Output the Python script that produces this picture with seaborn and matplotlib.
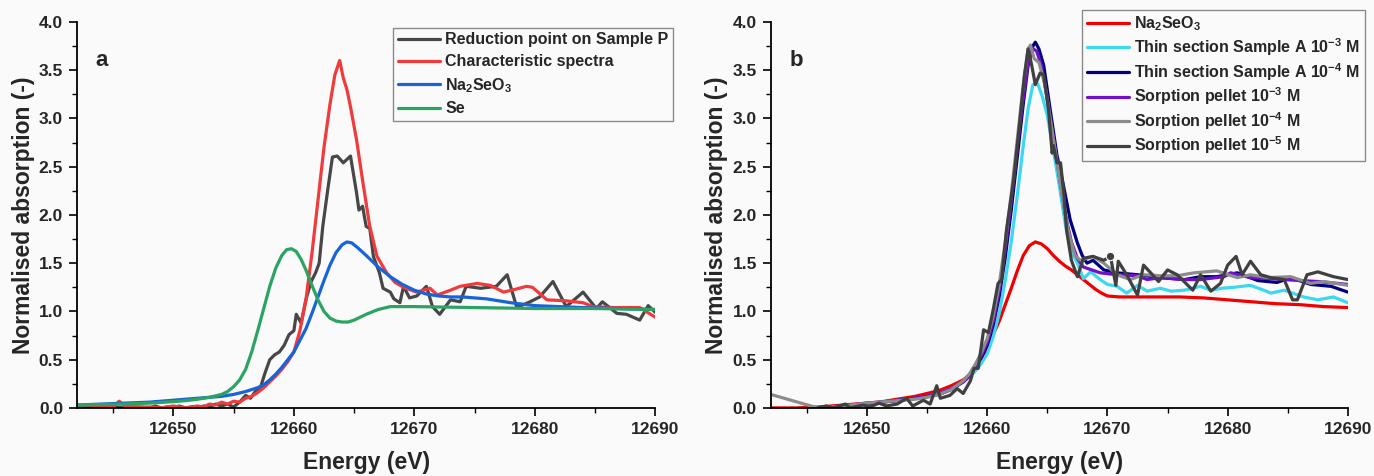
import matplotlib
matplotlib.use("Agg")
import matplotlib.pyplot as plt
from matplotlib.ticker import MultipleLocator
import seaborn as sns

# ---- panel a: reduction point vs references ----
red_pt_x = [12642.0, 12643.0, 12644.0, 12645.0, 12646.0, 12647.0, 12648.0, 12648.5, 12649.0, 12649.5,
            12650.0, 12650.5, 12651.0, 12651.5, 12652.0, 12652.5, 12653.0, 12653.5, 12654.0, 12654.5,
            12655.0, 12655.5, 12656.0, 12656.4, 12656.8, 12657.2, 12657.6, 12658.0, 12658.4, 12658.8,
            12659.2, 12659.6, 12660.0, 12660.2, 12660.6, 12661.0, 12661.4, 12661.8, 12662.1, 12662.4,
            12662.8, 12663.2, 12663.6, 12664.1, 12664.7, 12665.2, 12665.4, 12665.7, 12666.0, 12666.3,
            12666.6, 12667.1, 12667.4, 12668.0, 12668.3, 12668.8, 12669.1, 12669.6, 12670.2, 12671.0,
            12671.5, 12672.1, 12673.0, 12673.8, 12674.3, 12675.5, 12676.8, 12677.7, 12678.5, 12679.6,
            12680.4, 12681.5, 12682.6, 12684.0, 12685.1, 12685.6, 12686.8, 12687.6, 12688.7, 12689.4,
            12690.0]
red_pt_y = [0.00, 0.01, 0.00, 0.01, 0.00, 0.01, 0.00, 0.02, 0.00, 0.01,
            0.00, 0.02, 0.00, 0.01, 0.00, 0.02, 0.01, 0.04, 0.02, 0.04,
            0.01, 0.06, 0.13, 0.10, 0.17, 0.20, 0.36, 0.50, 0.55, 0.58,
            0.65, 0.76, 0.80, 0.97, 0.88, 1.12, 1.30, 1.40, 1.50, 1.88,
            2.25, 2.60, 2.61, 2.54, 2.61, 2.23, 2.05, 2.09, 1.88, 1.86,
            1.57, 1.40, 1.24, 1.20, 1.13, 1.09, 1.26, 1.14, 1.16, 1.26,
            1.05, 0.97, 1.12, 1.10, 1.26, 1.24, 1.26, 1.38, 1.04, 1.10,
            1.15, 1.31, 1.05, 1.20, 1.03, 1.10, 0.98, 0.97, 0.91, 1.06,
            0.99]

char_x = [12642.0, 12643.0, 12644.0, 12645.0, 12645.5, 12646.0, 12647.0, 12648.0, 12649.0, 12650.0,
          12651.0, 12652.0, 12652.5, 12653.0, 12653.5, 12654.0, 12654.5, 12655.0, 12655.5, 12656.0,
          12656.5, 12657.0, 12657.5, 12658.0, 12658.5, 12659.0, 12659.5, 12660.0, 12660.5, 12661.0,
          12661.5, 12662.0, 12662.5, 12663.0, 12663.4, 12663.8, 12664.1, 12664.4, 12664.7, 12665.2,
          12665.7, 12666.3, 12666.9, 12667.7, 12668.4, 12669.1, 12670.2, 12671.3, 12671.9, 12673.0,
          12673.8, 12675.2, 12676.3, 12677.4, 12678.4, 12679.3, 12679.8, 12681.0, 12682.6, 12684.0,
          12684.8, 12686.5, 12688.7, 12690.0]
char_y = [0.01, 0.00, 0.02, 0.01, 0.07, 0.02, 0.01, 0.01, 0.00, 0.02,
          0.00, 0.02, 0.01, 0.04, 0.03, 0.06, 0.04, 0.07, 0.06, 0.10,
          0.12, 0.16, 0.21, 0.27, 0.33, 0.40, 0.48, 0.58, 0.80, 1.12,
          1.60, 2.15, 2.70, 3.15, 3.45, 3.60, 3.42, 3.30, 3.12, 2.78,
          2.36, 1.88, 1.57, 1.40, 1.30, 1.25, 1.20, 1.24, 1.17, 1.22,
          1.26, 1.29, 1.27, 1.20, 1.23, 1.26, 1.25, 1.12, 1.11, 1.09,
          1.05, 1.04, 1.04, 0.94]

na_a_x = [12642, 12644, 12646, 12648, 12650, 12651, 12652, 12653, 12654, 12655,
          12656, 12657, 12657.5, 12658, 12658.5, 12659, 12659.5, 12660, 12660.5, 12661,
          12661.5, 12662, 12662.5, 12663, 12663.5, 12664, 12664.4, 12664.8, 12665.3, 12666,
          12667, 12668, 12669, 12670, 12671, 12672, 12673, 12674, 12675, 12676,
          12677, 12678, 12680, 12682, 12684, 12687, 12690]
na_a_y = [0.03, 0.04, 0.05, 0.06, 0.08, 0.09, 0.10, 0.11, 0.12, 0.14,
          0.17, 0.21, 0.24, 0.29, 0.35, 0.42, 0.50, 0.58, 0.70, 0.82,
          0.98, 1.15, 1.32, 1.48, 1.61, 1.69, 1.72, 1.71, 1.66, 1.58,
          1.46, 1.36, 1.28, 1.22, 1.18, 1.16, 1.15, 1.15, 1.14, 1.13,
          1.11, 1.09, 1.06, 1.05, 1.04, 1.03, 1.02]

se_x = [12642, 12644, 12646, 12648, 12650, 12651, 12652, 12653, 12654, 12654.5,
        12655, 12655.5, 12656, 12656.5, 12657, 12657.5, 12658, 12658.5, 12659, 12659.4,
        12659.8, 12660.2, 12660.6, 12661, 12661.5, 12662, 12662.5, 12663, 12663.5, 12664,
        12664.5, 12665, 12665.5, 12666, 12667, 12668, 12669, 12670, 12675, 12680,
        12685, 12690]
se_y = [0.03, 0.035, 0.04, 0.05, 0.065, 0.075, 0.09, 0.11, 0.14, 0.17,
        0.22, 0.29, 0.40, 0.58, 0.80, 1.03, 1.26, 1.45, 1.58, 1.64,
        1.65, 1.62, 1.54, 1.43, 1.27, 1.12, 1.00, 0.93, 0.90, 0.89,
        0.89, 0.91, 0.94, 0.97, 1.02, 1.05, 1.05, 1.05, 1.04, 1.03,
        1.03, 1.02]

# ---- panel b: Na2SeO3, thin sections and sorption pellets ----
na_b_x = [12642, 12644, 12646, 12648, 12650, 12651, 12652, 12653, 12654, 12655,
          12656, 12657, 12658, 12658.5, 12659, 12659.5, 12660, 12660.5, 12661, 12661.5,
          12662, 12662.5, 12663, 12663.5, 12664, 12664.5, 12665, 12665.5, 12666, 12666.5,
          12667, 12667.5, 12668, 12668.5, 12669, 12669.5, 12670, 12671, 12672, 12674,
          12676, 12678, 12680, 12682, 12684, 12686, 12688, 12690]
na_b_y = [0.00, 0.00, 0.01, 0.03, 0.05, 0.06, 0.08, 0.10, 0.12, 0.15,
          0.18, 0.23, 0.29, 0.34, 0.41, 0.50, 0.62, 0.76, 0.90, 1.07,
          1.24, 1.42, 1.58, 1.68, 1.72, 1.70, 1.65, 1.58, 1.52, 1.47,
          1.43, 1.38, 1.33, 1.28, 1.23, 1.19, 1.16, 1.15, 1.15, 1.15,
          1.15, 1.14, 1.12, 1.10, 1.08, 1.07, 1.05, 1.04]

thin3_x = [12646, 12648, 12650, 12652, 12654, 12655, 12656, 12657, 12658, 12658.5,
           12659, 12659.5, 12660, 12660.5, 12661, 12661.5, 12662, 12662.5, 12663, 12663.4,
           12663.8, 12664.2, 12664.6, 12665, 12665.5, 12666, 12666.5, 12667, 12667.5, 12668,
           12668.6, 12669.4, 12670, 12670.8, 12671.6, 12672.5, 12673.3, 12674.4, 12675.3, 12676.4,
           12677.75, 12678.6, 12679.5, 12680.5, 12681.9, 12683, 12683.6, 12684.7, 12686.3, 12687.5,
           12688.8, 12690]
thin3_y = [0.00, 0.02, 0.04, 0.07, 0.10, 0.12, 0.15, 0.20, 0.27, 0.32,
           0.38, 0.46, 0.56, 0.74, 0.98, 1.32, 1.72, 2.20, 2.72, 3.10,
           3.35, 3.36, 3.22, 3.03, 2.67, 2.30, 1.90, 1.62, 1.50, 1.34,
           1.41, 1.33, 1.28, 1.26, 1.19, 1.27, 1.21, 1.24, 1.21, 1.22,
           1.26, 1.22, 1.24, 1.25, 1.27, 1.22, 1.19, 1.22, 1.15, 1.12,
           1.15, 1.09]

thin4_x = [12646, 12648, 12650, 12652, 12654, 12655, 12656, 12657, 12658, 12658.5,
           12659, 12659.5, 12660, 12660.5, 12661, 12661.5, 12662, 12662.5, 12663, 12663.4,
           12663.8, 12664.0, 12664.3, 12664.7, 12665.25, 12665.8, 12666.3, 12666.9, 12667.5, 12667.9,
           12668.3, 12668.8, 12669.7, 12670.8, 12672.5, 12674.4, 12676.4, 12677.75, 12679.1, 12680.8,
           12682.5, 12684.1, 12685.25, 12686.9, 12688.6, 12690]
thin4_y = [0.00, 0.02, 0.04, 0.07, 0.10, 0.12, 0.14, 0.19, 0.27, 0.33,
           0.42, 0.52, 0.65, 0.86, 1.16, 1.56, 2.05, 2.60, 3.15, 3.55,
           3.75, 3.79, 3.72, 3.55, 3.08, 2.62, 2.33, 1.95, 1.71, 1.58,
           1.50, 1.53, 1.43, 1.40, 1.38, 1.35, 1.33, 1.36, 1.36, 1.40,
           1.32, 1.30, 1.35, 1.28, 1.26, 1.20]

pel3_x = [12646, 12648, 12650, 12652, 12654, 12655, 12656, 12657, 12658, 12658.5,
          12659, 12659.5, 12660, 12660.5, 12661, 12661.5, 12662, 12662.5, 12663, 12663.4,
          12663.8, 12664.1, 12664.5, 12665, 12665.5, 12666, 12666.5, 12667, 12667.5, 12668,
          12668.7, 12669.4, 12670.8, 12672.5, 12673.3, 12674.4, 12676.4, 12677.75, 12679.7, 12680.25,
          12681.9, 12683.5, 12684.7, 12686, 12687.5, 12690]
pel3_y = [0.00, 0.02, 0.05, 0.07, 0.10, 0.12, 0.15, 0.20, 0.27, 0.33,
          0.42, 0.54, 0.68, 0.90, 1.22, 1.64, 2.15, 2.70, 3.22, 3.58,
          3.72, 3.70, 3.55, 3.20, 2.80, 2.40, 2.00, 1.72, 1.55, 1.46,
          1.43, 1.40, 1.38, 1.37, 1.33, 1.35, 1.33, 1.33, 1.36, 1.40,
          1.35, 1.34, 1.33, 1.32, 1.31, 1.28]

pel4_x = [12642, 12645.9, 12647, 12648, 12650, 12652, 12654, 12655, 12656, 12657,
          12658, 12658.5, 12659, 12659.5, 12660, 12660.5, 12661, 12661.5, 12662, 12662.5,
          12663, 12663.4, 12663.6, 12663.9, 12664.3, 12664.8, 12665.3, 12665.8, 12666.3, 12666.8,
          12667.3, 12667.75, 12668.8, 12669.7, 12670.8, 12671.9, 12673, 12674.4, 12675.8, 12677.2,
          12679.1, 12680.8, 12681.9, 12683.3, 12685.25, 12686.9, 12688, 12690]
pel4_y = [0.14, 0.00, 0.01, 0.02, 0.05, 0.07, 0.09, 0.11, 0.14, 0.19,
          0.28, 0.35, 0.45, 0.57, 0.72, 0.95, 1.28, 1.72, 2.22, 2.78,
          3.35, 3.72, 3.76, 3.62, 3.58, 3.35, 2.95, 2.55, 2.15, 1.80,
          1.58, 1.53, 1.57, 1.50, 1.38, 1.33, 1.38, 1.37, 1.37, 1.40,
          1.42, 1.35, 1.38, 1.35, 1.36, 1.29, 1.31, 1.27]

pel5_x = [12645.9, 12646.6, 12647.2, 12648.2, 12648.6, 12649.7, 12650.25, 12651, 12651.6, 12652.5,
          12653.3, 12653.8, 12654.7, 12655.25, 12655.8, 12656.1, 12656.9, 12657.5, 12658, 12658.6,
          12658.9, 12659.25, 12659.7, 12660.1, 12660.5, 12660.9, 12661.2, 12661.6, 12662.2, 12662.7,
          12663.1, 12663.4, 12663.7, 12664.0, 12664.4, 12664.7, 12665.1, 12665.4, 12665.5, 12665.8,
          12666.1, 12666.4, 12666.6, 12667.0, 12667.5, 12668.0, 12668.8, 12669.7, 12670.25, 12670.7,
          12670.9, 12671.6, 12672.5, 12673.0, 12673.6, 12674.25, 12675.0, 12675.8, 12677.1, 12677.75,
          12678.6, 12679.4, 12680.0, 12680.7, 12681.2, 12681.9, 12682.75, 12683.6, 12684.7, 12685.4,
          12685.8, 12686.6, 12687.5, 12688.8, 12690.0]
pel5_y = [0.00, 0.02, 0.00, 0.04, 0.00, 0.03, 0.01, 0.05, 0.02, 0.04,
          0.10, 0.02, 0.08, 0.04, 0.23, 0.10, 0.13, 0.20, 0.15, 0.28,
          0.41, 0.41, 0.81, 0.78, 1.02, 1.29, 1.33, 1.84, 2.36, 2.95,
          3.45, 3.72, 3.55, 3.35, 3.47, 3.45, 3.09, 2.64, 2.72, 2.54,
          2.54, 2.19, 1.84, 1.53, 1.36, 1.55, 1.57, 1.53, 1.57, 1.27,
          1.52, 1.38, 1.17, 1.48, 1.40, 1.31, 1.43, 1.38, 1.22, 1.38,
          1.21, 1.29, 1.48, 1.57, 1.38, 1.52, 1.38, 1.35, 1.33, 1.12,
          1.12, 1.38, 1.41, 1.36, 1.33]

labels_a = ["Reduction point on Sample P", "Characteristic spectra",
            r"Na$_\mathregular{2}$SeO$_\mathregular{3}$", "Se"]
labels_b = [r"Na$_\mathregular{2}$SeO$_\mathregular{3}$",
            r"Thin section Sample A 10$^{\mathregular{-3}}$ M",
            r"Thin section Sample A 10$^{\mathregular{-4}}$ M",
            r"Sorption pellet 10$^{\mathregular{-3}}$ M",
            r"Sorption pellet 10$^{\mathregular{-4}}$ M",
            r"Sorption pellet 10$^{\mathregular{-5}}$ M"]

sns.set_theme(style="ticks")
bg = "#fafafa"
plt.rcParams["font.family"] = ["Liberation Sans", "DejaVu Sans"]
plt.rcParams["font.weight"] = "bold"
plt.rcParams["mathtext.fontset"] = "custom"
plt.rcParams["mathtext.rm"] = "Liberation Sans:bold"
plt.rcParams["mathtext.bf"] = "Liberation Sans:bold"
plt.rcParams["mathtext.it"] = "Liberation Sans:bold"
plt.rcParams["mathtext.sf"] = "Liberation Sans:bold"

fig = plt.figure(figsize=(13.74, 4.76), dpi=100, facecolor=bg)
ax_a = fig.add_axes([0.056, 0.143, 0.421, 0.811])
ax_b = fig.add_axes([0.561, 0.143, 0.420, 0.811])

lw = 2.3
series_a = [(red_pt_x, red_pt_y, "#474747"), (char_x, char_y, "#f03a3c"),
            (na_a_x, na_a_y, "#1764d8"), (se_x, se_y, "#2ba362")]
for (xs, ys, c), lab in zip(series_a, labels_a):
    sns.lineplot(x=xs, y=ys, ax=ax_a, color=c, lw=lw, label=lab,
                 estimator=None, sort=False)

# grey pellet curves drawn last so they sit on top
series_b = [(na_b_x, na_b_y, "#f00000"), (thin3_x, thin3_y, "#3cd8f0"),
            (thin4_x, thin4_y, "#000080"), (pel3_x, pel3_y, "#7010c8"),
            (pel4_x, pel4_y, "#8c8c8c"), (pel5_x, pel5_y, "#404040")]
for (xs, ys, c), lab in zip(series_b, labels_b):
    sns.lineplot(x=xs, y=ys, ax=ax_b, color=c, lw=lw, label=lab,
                 estimator=None, sort=False)

for ax, letter in [(ax_a, "a"), (ax_b, "b")]:
    ax.set_facecolor(bg)
    ax.set_xlim(12642, 12690)
    ax.set_ylim(0, 4.0)
    ax.xaxis.set_major_locator(MultipleLocator(10))
    ax.xaxis.set_minor_locator(MultipleLocator(5))
    ax.yaxis.set_major_locator(MultipleLocator(0.5))
    ax.yaxis.set_minor_locator(MultipleLocator(0.25))
    ax.set_yticks([0, 0.5, 1.0, 1.5, 2.0, 2.5, 3.0, 3.5, 4.0])
    ax.set_yticklabels([f"{v:.1f}" for v in ax.get_yticks()])
    ax.tick_params(which="major", direction="out", length=6, width=1.2,
                   labelsize=12.5, pad=4, color="black")
    ax.tick_params(which="minor", direction="out", length=3.5, width=1.0, color="black")
    for t in ax.get_xticklabels() + ax.get_yticklabels():
        t.set_fontweight("bold")
    sns.despine(ax=ax)
    for s in ["left", "bottom"]:
        ax.spines[s].set_linewidth(1.3)
        ax.spines[s].set_color("black")
    ax.set_xlabel("Energy (eV)", fontsize=16.5, fontweight="bold", labelpad=10)
    ax.set_ylabel("Normalised absorption (-)", fontsize=16.5, fontweight="bold", labelpad=3)
    ax.text(0.032, 0.885, letter, transform=ax.transAxes, fontsize=16, fontweight="bold")
    ax.grid(False)

leg_kw = dict(frameon=True, fancybox=False, edgecolor="#8a8a8a", facecolor=bg, framealpha=1,
              handlelength=2.6, handletextpad=0.35, borderpad=0.3, borderaxespad=0,
              prop={"weight": "bold", "size": 11.5}, bbox_transform=fig.transFigure,
              loc="upper right")
la = ax_a.legend(bbox_to_anchor=(0.490, 0.942), labelspacing=0.42, **leg_kw)
lb = ax_b.legend(bbox_to_anchor=(0.9935, 0.979), labelspacing=0.18, **leg_kw)
for leg in (la, lb):
    leg.get_frame().set_linewidth(1.0)
    for h in leg.get_lines():
        h.set_linewidth(lw)

# the single marker on the 10^-5 pellet curve (added after the legend)
dot = pel5_x.index(12670.25)
ax_b.lines[-1].set_marker("o")
ax_b.lines[-1].set_markevery([dot])
ax_b.lines[-1].set_markersize(6)

fig.savefig("out.png", dpi=100, facecolor=bg)
